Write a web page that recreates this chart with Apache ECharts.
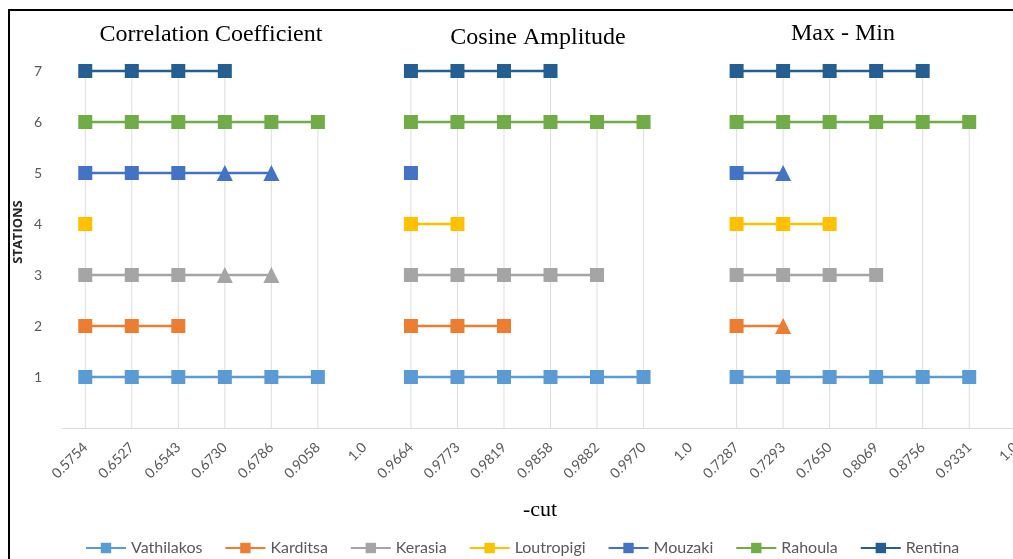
<!DOCTYPE html>
<html>
<head>
<meta charset="utf-8">
<script src="https://cdn.jsdelivr.net/npm/echarts@6/dist/echarts.min.js"></script>
<style>html,body{margin:0;padding:0;background:#fff;}#c{width:1013px;height:559px;}</style>
</head>
<body>
<div id="c"></div>
<script>
// ---- data ----
var cutLabels = ['0.5754','0.6527','0.6543','0.6730','0.6786','0.9058','1.0',
                 '0.9664','0.9773','0.9819','0.9858','0.9882','0.9970','1.0',
                 '0.7287','0.7293','0.7650','0.8069','0.8756','0.9331','1.0'];
var panelTitles = ['Correlation Coefficient','Cosine Amplitude','Max - Min'];
var stationNames = ['Vathilakos','Karditsa','Kerasia','Loutropigi','Mouzaki','Rahoula','Rentina'];
var _ = null;
var vathilakos = [1,1,1,1,1,1,_, 1,1,1,1,1,1,_, 1,1,1,1,1,1,_];
var karditsa   = [2,2,2,_,_,_,_, 2,2,2,_,_,_,_, 2,2,_,_,_,_,_];
var kerasia    = [3,3,3,3,3,_,_, 3,3,3,3,3,_,_, 3,3,3,3,_,_,_];
var loutropigi = [4,_,_,_,_,_,_, 4,4,_,_,_,_,_, 4,4,4,_,_,_,_];
var mouzaki    = [5,5,5,5,5,_,_, 5,_,_,_,_,_,_, 5,5,_,_,_,_,_];
var rahoula    = [6,6,6,6,6,6,_, 6,6,6,6,6,6,_, 6,6,6,6,6,6,_];
var rentina    = [7,7,7,7,_,_,_, 7,7,7,7,_,_,_, 7,7,7,7,7,_,_];
// points drawn as triangles (index positions)
var triKarditsa = [15];
var triKerasia  = [3,4];
var triMouzaki  = [3,4,15];
var yTicks = ['1','2','3','4','5','6','7'];

var seriesValues = [vathilakos,karditsa,kerasia,loutropigi,mouzaki,rahoula,rentina];
var seriesTri = [[],triKarditsa,triKerasia,[],triMouzaki,[],[]];
var colors = ['#5B9BD5','#ED7D31','#A5A5A5','#FFC000','#4472C4','#70AD47','#255E91'];

// drop lines: highest point per category
var dropMax = cutLabels.map(function(_l,i){
  var m = null;
  seriesValues.forEach(function(s){ if (s[i] != null && (m == null || s[i] > m)) m = s[i]; });
  return m;
});

var series = [{
  name: 'drop', type: 'bar', data: dropMax, barWidth: 1, silent: true,
  itemStyle: {color: '#DEDEDE'}, z: 1, legendHoverLink: false
}];
stationNames.forEach(function(n, k){
  series.push({
    name: n, type: 'line', z: 3,
    data: seriesValues[k].map(function(v,i){
      if (v == null) return null;
      if (seriesTri[k].indexOf(i) >= 0) return {value: v, symbol: 'triangle', symbolSize: 16};
      return v;
    }),
    symbol: 'rect', symbolSize: 14, connectNulls: false,
    lineStyle: {width: 2.5, color: colors[k]},
    itemStyle: {color: colors[k]},
    emphasis: {disabled: true}
  });
});

var chart = echarts.init(document.getElementById('c'));
chart.setOption({
  animation: false,
  color: colors,
  grid: {left: 62, width: 977, top: 20, bottom: 131, containLabel: false, outerBoundsMode: 'none'},
  xAxis: {
    type: 'category', data: cutLabels.map(function(_l,i){return String(i);}),
    boundaryGap: true,
    axisTick: {show: false},
    axisLine: {lineStyle: {color: '#D9D9D9', width: 1}},
    axisLabel: {
      rotate: 45, margin: 17, color: '#595959', fontSize: 14, fontFamily: 'Lato, "Open Sans", sans-serif',
      interval: 0, formatter: function(v, i){ return cutLabels[i]; }
    },
    splitLine: {show: false}
  },
  yAxis: {
    type: 'value', min: 0, max: 8, interval: 1,
    axisLine: {show: false}, axisTick: {show: false}, splitLine: {show: false},
    axisLabel: {
      margin: 20, color: '#595959', fontSize: 14, fontFamily: 'Lato, "Open Sans", sans-serif',
      formatter: function(v){ return (v >= 1 && v <= 7) ? yTicks[v-1] : ''; }
    }
  },
  legend: {
    data: stationNames, top: 535, left: 80,
    itemWidth: 40, itemHeight: 13, itemGap: 22,
    textStyle: {color: '#595959', fontSize: 16, fontFamily: 'Lato, "Open Sans", sans-serif'}
  },
  graphic: [
    {type: 'rect', shape: {x: 9, y: 10, width: 1200, height: 700}, style: {fill: 'none', stroke: '#000', lineWidth: 2}, z: 100},
    {type: 'text', x: 211, y: 35, style: {text: panelTitles[0], font: '24px "Liberation Serif", serif', fill: '#000', textAlign: 'center', textVerticalAlign: 'middle'}},
    {type: 'text', x: 538, y: 38, style: {text: panelTitles[1], font: '24px "Liberation Serif", serif', fill: '#000', textAlign: 'center', textVerticalAlign: 'middle'}},
    {type: 'text', x: 843, y: 34, style: {text: panelTitles[2], font: '24px "Liberation Serif", serif', fill: '#000', textAlign: 'center', textVerticalAlign: 'middle'}},
    {type: 'text', x: 540, y: 510, style: {text: '-cut', font: '22px "Liberation Serif", serif', fill: '#000', textAlign: 'center', textVerticalAlign: 'middle'}},
    {type: 'text', x: 18, y: 232, rotation: Math.PI / 2, style: {text: 'STATIONS', font: 'bold 13px "Open Sans", sans-serif', fill: '#262626', textAlign: 'center', textVerticalAlign: 'middle'}}
  ],
  series: series
});
</script>
</body>
</html>
